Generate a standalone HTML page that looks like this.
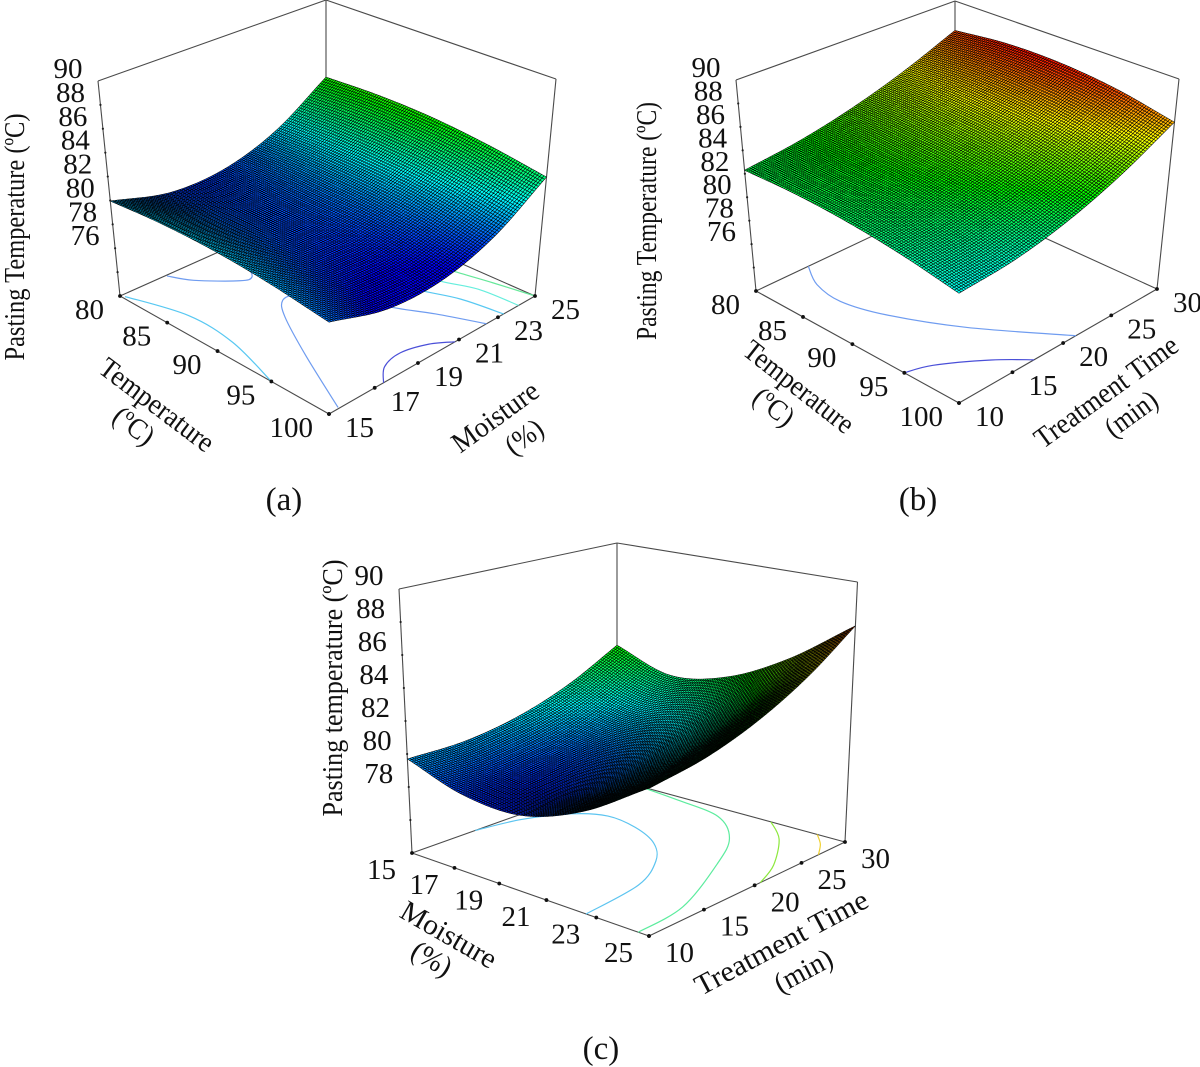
<!DOCTYPE html>
<html lang="en">
<head>
<meta charset="utf-8">
<title>Pasting temperature response surfaces</title>
<style>
html,body{margin:0;padding:0;background:#fff;}
#figure{display:block;width:1200px;height:1067px;background:#fff;}
text{font-family:"Liberation Serif",serif;fill:#111;}
.title{font-size:29px;text-anchor:middle;}
.caption{font-size:33px;text-anchor:middle;}
.tick{font-size:29px;}
</style>
</head>
<body>
<svg id="figure" xmlns="http://www.w3.org/2000/svg" width="1200" height="1067" viewBox="0 0 1200 1067">
  <g id="panel-a"></g>
  <g id="panel-b"></g>
  <g id="panel-c"></g>

  <text class="title" transform="translate(16,237) rotate(-90)" y="8" textLength="247" lengthAdjust="spacingAndGlyphs">Pasting Temperature (ºC)</text>
  <text class="title" transform="translate(156,406) rotate(37)" y="8" textLength="136" lengthAdjust="spacingAndGlyphs">Temperature</text>
  <text class="title" transform="translate(133,427) rotate(37)" y="8" textLength="44" lengthAdjust="spacingAndGlyphs">(ºC)</text>
  <text class="title" transform="translate(496,418) rotate(-36)" y="8" textLength="100" lengthAdjust="spacingAndGlyphs">Moisture</text>
  <text class="title" transform="translate(525,438) rotate(-36)" y="8" textLength="40" lengthAdjust="spacingAndGlyphs">(%)</text>
  <text class="caption" x="284" y="510">(a)</text>

  <text class="title" transform="translate(648,221) rotate(-90)" y="8" textLength="238" lengthAdjust="spacingAndGlyphs">Pasting Temperature (ºC)</text>
  <text class="title" transform="translate(798,388) rotate(38)" y="8" textLength="132" lengthAdjust="spacingAndGlyphs">Temperature</text>
  <text class="title" transform="translate(773,408) rotate(38)" y="8" textLength="44" lengthAdjust="spacingAndGlyphs">(ºC)</text>
  <text class="title" transform="translate(1107,393) rotate(-36)" y="8" textLength="170" lengthAdjust="spacingAndGlyphs">Treatment Time</text>
  <text class="title" transform="translate(1132,415) rotate(-36)" y="8" textLength="58" lengthAdjust="spacingAndGlyphs">(min)</text>
  <text class="caption" x="918" y="510">(b)</text>

  <text class="title" transform="translate(334,688) rotate(-90)" y="8" textLength="257" lengthAdjust="spacingAndGlyphs">Pasting temperature (ºC)</text>
  <text class="title" transform="translate(448,936) rotate(30)" y="8" textLength="106" lengthAdjust="spacingAndGlyphs">Moisture</text>
  <text class="title" transform="translate(431,960) rotate(30)" y="8" textLength="42" lengthAdjust="spacingAndGlyphs">(%)</text>
  <text class="title" transform="translate(782,944) rotate(-28)" y="8" textLength="192" lengthAdjust="spacingAndGlyphs">Treatment Time</text>
  <text class="title" transform="translate(804,972) rotate(-28)" y="8" textLength="62" lengthAdjust="spacingAndGlyphs">(min)</text>
  <text class="caption" x="601" y="1059">(c)</text>
</svg>

<script>
/* ---------- data ---------- */
const temperatureTicks = [80, 85, 90, 95, 100];
const moistureTicks = [15, 17, 19, 21, 23, 25];
const timeTicks = [10, 15, 20, 25, 30];
const zLabelsAB = [76, 78, 80, 82, 84, 86, 88, 90];
const zMarksAB = [74, 76, 78, 80, 82, 84, 86, 88];
const zLabelsC = [78, 80, 82, 84, 86, 88, 90];
const zMarksC = [76, 78, 80, 82, 84, 86, 88];

const temperatureGrid = [80, 85, 90, 95, 100];
const moistureGrid = [15, 17.5, 20, 22.5, 25];
const timeGrid = [10, 15, 20, 25, 30];

/* rows follow the second factor, columns follow the first factor */
const surfaceA = [
  [79.95, 80.23, 80.22, 79.86, 79.2],
  [78.66, 78.91, 78.87, 78.46, 77.77],
  [78.78, 78.99, 78.91, 78.47, 77.74],
  [80.29, 80.46, 80.35, 79.87, 79.1],
  [83.2, 83.34, 83.19, 82.67, 81.87]
];
const surfaceB = [
  [82.3, 82.35, 82.1, 81.55, 80.7],
  [82.92, 83.0, 82.73, 82.1, 81.13],
  [83.96, 84.12, 83.88, 83.24, 82.2],
  [85.42, 85.72, 85.58, 84.98, 83.93],
  [87.3, 87.8, 87.8, 87.3, 86.3]
];
const surfaceC = [
  [79.7, 78.55, 78.4, 79.7, 82.1],
  [79.73, 78.56, 78.64, 80.1, 82.62],
  [80.3, 79.11, 79.4, 81.03, 83.66],
  [81.43, 80.22, 80.71, 82.47, 85.22],
  [83.1, 81.85, 82.54, 84.48, 87.3]
];

/* contour traces on the floor, as [first factor, second factor] */
const contourA80Left = [[80.3, 15.1], [85.3, 15.8], [89.9, 15.7], [95, 15]];
const contourA79Left = [[80.1, 17.04], [81.9, 17.5], [84.2, 18.6], [84.4, 19.1], [82.7, 19.7], [81.5, 20.8]];
const contourA79Mid = [[90, 19.6], [88.4, 19.3], [88.3, 18.7], [90, 18], [94.4, 16.8], [99.9, 15.44]];
const contourA78 = [[100, 17.4], [98.8, 18.1], [98.4, 19.05], [99, 20.1], [100, 20.8]];
const contourA79Right = [[90, 20.5], [93.7, 20.9], [96.8, 21.7], [100, 22.4]];
const contourA80Right = [[90, 22.0], [93.8, 22.5], [96.7, 23.05], [100, 23.3]];
const contourA81 = [[90, 23.1], [94, 23.5], [96.7, 24], [100, 24.1]];
const contourA82 = [[90, 24.1], [93.5, 24.35], [96.8, 24.7], [100, 25]];
const contourBUpper = [[80, 14.9], [82.4, 13.6], [85.3, 13.2], [88.9, 14.2], [94, 16.9], [100, 21.3]];
const contourBLower = [[95, 10], [95.7, 11.95], [98, 15.1], [100, 17.1]];
const contourC80 = [[15, 15.6], [15.4, 19.2], [16.3, 22.3], [17.4, 23.6], [18.85, 23.1], [20.3, 21.6], [21.4, 19.2], [22.3, 15.4], [22.6, 10]];
const contourC82 = [[15.9, 30], [18.15, 29.4], [20.3, 28.5], [21.9, 25.6], [23, 21.5], [24.4, 14.5], [24.6, 10]];
const contourC84 = [[22, 30], [23.2, 27.6], [24.45, 23.5], [25, 20.6]];
const contourC86 = [[23.9, 30], [24.5, 28.6], [25, 26.9]];

/* colour ramp: response value at each hue stop */
const rampValues = [78, 80.6, 83, 85.5, 88];
const rampColours = [[0, 0, 255], [0, 255, 255], [0, 255, 0], [255, 255, 0], [255, 0, 0]];

/* ---------- panel layout (box corners in page pixels) ---------- */
const panels = [
  {
    id: 'panel-a', prefix: 'panel-a',
    floor: [[120, 296], [329, 414], [535, 296], [326, 204]],
    top: [[98, 81], [329, 184.5], [556, 79], [326, 0]],
    zDomain: [72, 90],
    xTicks: temperatureTicks, yTicks: moistureTicks,
    xGrid: temperatureGrid, yGrid: moistureGrid,
    surface: surfaceA,
    zLabels: zLabelsAB, zMarks: zMarksAB,
    contours: [
      [contourA80Left, '#58c8f2'], [contourA79Left, '#6f9cf0'], [contourA79Mid, '#6f9cf0'],
      [contourA78, '#4a4fd8'], [contourA79Right, '#6f9cf0'], [contourA80Right, '#58c8f2'],
      [contourA81, '#66eedd'], [contourA82, '#66e89a']
    ],
    labelDy: 23, zLabelDy: -3
  },
  {
    id: 'panel-b', prefix: 'panel-b',
    floor: [[756, 291], [959, 403], [1157, 289], [955, 197]],
    top: [[736, 80], [959, 176], [1179, 79], [955, 1]],
    zDomain: [72, 90],
    xTicks: temperatureTicks, yTicks: timeTicks,
    xGrid: temperatureGrid, yGrid: timeGrid,
    surface: surfaceB,
    zLabels: zLabelsAB, zMarks: zMarksAB,
    contours: [[contourBUpper, '#6f9cf0'], [contourBLower, '#4a4fd8']],
    labelDy: 23, zLabelDy: -3
  },
  {
    id: 'panel-c', prefix: 'panel-c',
    floor: [[412, 853], [649, 936], [845, 842], [617, 780]],
    top: [[399, 589], [652, 643], [857.5, 582], [617, 543]],
    zDomain: [74, 90],
    xTicks: moistureTicks, yTicks: timeTicks,
    xGrid: moistureGrid, yGrid: timeGrid,
    surface: surfaceC,
    zLabels: zLabelsC, zMarks: zMarksC,
    contours: [[contourC80, '#5cc4f0'], [contourC82, '#5cec9e'], [contourC84, '#8ce83c'], [contourC86, '#f0d030']],
    labelDy: 26, zLabelDy: -4
  }
];

const SVG_NS = 'http://www.w3.org/2000/svg';
const MESH = 100;
const INK = '#4a4a4a';

function homography(q) {
  const [x0, y0] = q[0], [x1, y1] = q[1], [x2, y2] = q[2], [x3, y3] = q[3];
  const dx1 = x1 - x2, dx2 = x3 - x2, sx = x0 - x1 + x2 - x3;
  const dy1 = y1 - y2, dy2 = y3 - y2, sy = y0 - y1 + y2 - y3;
  const den = dx1 * dy2 - dx2 * dy1;
  const g = (sx * dy2 - dx2 * sy) / den;
  const h = (dx1 * sy - sx * dy1) / den;
  const A = x1 - x0 + g * x1, B = x3 - x0 + h * x3;
  const D = y1 - y0 + g * y1, E = y3 - y0 + h * y3;
  return function (u, v) {
    const w = g * u + h * v + 1;
    return [(A * u + B * v + x0) / w, (D * u + E * v + y0) / w];
  };
}

function catmull(values, s) {
  const n = values.length - 1;
  const k = Math.min(Math.floor(s), n - 1);
  const t = s - k;
  const p1 = values[k], p2 = values[k + 1];
  const p0 = k > 0 ? values[k - 1] : 2 * p1 - p2;
  const p3 = k + 2 <= n ? values[k + 2] : 2 * p2 - p1;
  return 0.5 * (2 * p1 + (p2 - p0) * t + (2 * p0 - 5 * p1 + 4 * p2 - p3) * t * t + (3 * p1 - p0 - 3 * p2 + p3) * t * t * t);
}

function sampleSurface(rows, u, v) {
  const su = u * (rows[0].length - 1);
  const sv = v * (rows.length - 1);
  return catmull(rows.map(function (row) { return catmull(row, su); }), sv);
}

function rampColour(z) {
  const last = rampValues.length - 1;
  if (z <= rampValues[0]) return 'rgb(' + rampColours[0].join(',') + ')';
  if (z >= rampValues[last]) return 'rgb(' + rampColours[last].join(',') + ')';
  let i = 0;
  while (z > rampValues[i + 1]) i++;
  const t = (z - rampValues[i]) / (rampValues[i + 1] - rampValues[i]);
  const c = rampColours[i].map(function (a, k) { return Math.round(a + (rampColours[i + 1][k] - a) * t); });
  return 'rgb(' + c.join(',') + ')';
}

function svgNode(parent, tag, attrs) {
  const node = document.createElementNS(SVG_NS, tag);
  for (const key in attrs) node.setAttribute(key, attrs[key]);
  parent.appendChild(node);
  return node;
}

function smoothPath(pts) {
  let d = 'M' + pts[0][0].toFixed(2) + ' ' + pts[0][1].toFixed(2);
  for (let i = 0; i < pts.length - 1; i++) {
    const p0 = pts[Math.max(i - 1, 0)], p1 = pts[i], p2 = pts[i + 1], p3 = pts[Math.min(i + 2, pts.length - 1)];
    d += 'C' + (p1[0] + (p2[0] - p0[0]) / 6).toFixed(2) + ' ' + (p1[1] + (p2[1] - p0[1]) / 6).toFixed(2) +
         ' ' + (p2[0] - (p3[0] - p1[0]) / 6).toFixed(2) + ' ' + (p2[1] - (p3[1] - p1[1]) / 6).toFixed(2) +
         ' ' + p2[0].toFixed(2) + ' ' + p2[1].toFixed(2);
  }
  return d;
}

function drawPanel(panel) {
  const root = document.getElementById(panel.id);
  const floorAt = homography(panel.floor);
  const topAt = homography(panel.top);
  const xScale = function (x) { return (x - panel.xTicks[0]) / (panel.xTicks[panel.xTicks.length - 1] - panel.xTicks[0]); };
  const yScale = function (y) { return (y - panel.yTicks[0]) / (panel.yTicks[panel.yTicks.length - 1] - panel.yTicks[0]); };
  const zScale = function (z) { return (z - panel.zDomain[0]) / (panel.zDomain[1] - panel.zDomain[0]); };
  const project = function (u, v, f) {
    const a = floorAt(u, v), b = topAt(u, v);
    return [a[0] + (b[0] - a[0]) * f, a[1] + (b[1] - a[1]) * f];
  };
  const edge = function (p, q, name) {
    const line = svgNode(root, 'line', { x1: p[0], y1: p[1], x2: q[0], y2: q[1], stroke: INK, 'stroke-width': 1.1 });
    
    
  };
  const F = panel.floor, T = panel.top;

  edge(F[3], T[3], 'back-vertical-edge');
  edge(T[0], T[3], 'top-left-edge');
  edge(T[3], T[2], 'top-right-edge');
  edge(F[0], F[3], 'floor-back-left-edge');
  edge(F[3], F[2], 'floor-back-right-edge');
  edge(F[0], F[1], 'floor-front-left-edge');
  edge(F[1], F[2], 'floor-front-right-edge');
  edge(F[0], T[0], 'left-vertical-edge');
  edge(F[2], T[2], 'right-vertical-edge');

  panel.contours.forEach(function (contour) {
    const pts = contour[0].map(function (p) { return floorAt(xScale(p[0]), yScale(p[1])); });
    const path = svgNode(root, 'path', { d: smoothPath(pts), fill: 'none', stroke: contour[1], 'stroke-width': 1.2 });
    
    
  });

  const mesh = svgNode(root, 'g', { stroke: '#000', 'stroke-width': 0.52, 'stroke-linejoin': 'round' });
  
  
  const heights = [], points = [];
  for (let i = 0; i <= MESH; i++) {
    heights.push([]);
    points.push([]);
    for (let j = 0; j <= MESH; j++) {
      const u = i / MESH, v = j / MESH;
      const zu = panel.xGrid[0] + u * (panel.xGrid[panel.xGrid.length - 1] - panel.xGrid[0]);
      const zv = panel.yGrid[0] + v * (panel.yGrid[panel.yGrid.length - 1] - panel.yGrid[0]);
      const z = sampleSurface(panel.surface, xScale(zu), yScale(zv));
      heights[i].push(z);
      points[i].push(project(u, v, zScale(z)));
    }
  }
  for (let i = 0; i < MESH; i++) {
    for (let j = MESH - 1; j >= 0; j--) {
      const a = points[i][j], b = points[i + 1][j], c = points[i + 1][j + 1], d = points[i][j + 1];
      const mean = (heights[i][j] + heights[i + 1][j] + heights[i + 1][j + 1] + heights[i][j + 1]) / 4;
      const cell = svgNode(mesh, 'polygon', {
        points: [a, b, c, d].map(function (p) { return p[0].toFixed(2) + ',' + p[1].toFixed(2); }).join(' '),
        fill: rampColour(mean)
      });
      
      
    }
  }

  panel.xTicks.forEach(function (tick) {
    const p = floorAt(xScale(tick), 0);
    const dot = svgNode(root, 'circle', { cx: p[0], cy: p[1], r: 1.9, fill: '#111' });
    
    
    const label = svgNode(root, 'text', { class: 'tick', x: p[0] - 16, y: p[1] + panel.labelDy, 'text-anchor': 'end' });
    
    
    label.textContent = tick;
  });
  panel.yTicks.forEach(function (tick) {
    const p = floorAt(1, yScale(tick));
    const dot = svgNode(root, 'circle', { cx: p[0], cy: p[1], r: 1.9, fill: '#111' });
    
    
    const label = svgNode(root, 'text', { class: 'tick', x: p[0] + 16, y: p[1] + panel.labelDy, 'text-anchor': 'start' });
    
    
    label.textContent = tick;
  });
  panel.zMarks.forEach(function (tick) {
    const p = project(0, 0, zScale(tick));
    const mark = svgNode(root, 'circle', { cx: p[0], cy: p[1], r: 1.1, fill: '#222' });
    
    
  });
  panel.zLabels.forEach(function (tick) {
    const p = project(0, 0, zScale(tick));
    const label = svgNode(root, 'text', { class: 'tick', x: p[0] - 15.5, y: p[1] + panel.zLabelDy, 'text-anchor': 'end' });
    
    
    label.textContent = tick;
  });
}

panels.forEach(drawPanel);
</script>
</body>
</html>
